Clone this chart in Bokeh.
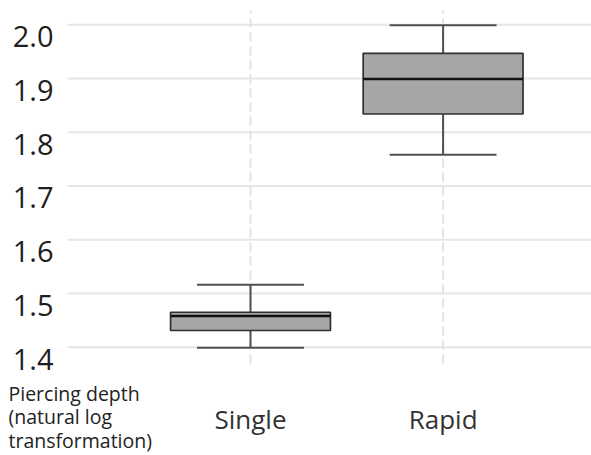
from bokeh.plotting import figure
from bokeh.models import ColumnDataSource, Range1d
from bokeh.core.properties import value
from bokeh.embed import file_html
from bokeh.resources import INLINE

# ---- data ----
groups = ["Single", "Rapid"]
lower = [1.399, 1.758]
q1 = [1.431, 1.834]
median = [1.458, 1.899]
q3 = [1.465, 1.947]
upper = [1.516, 1.999]
y_ticks = [1.4, 1.5, 1.6, 1.7, 1.8, 1.9, 2.0]
y_title_lines = ["Piercing depth", "(natural log", "transformation)"]

# ---- layout constants (pixel geometry of the canvas) ----
W, H = 591, 455
PX_PER_X = 192.6          # pixels per category step
PX_PER_Y = 537.3          # pixels per 1.0 of y
X_ORIGIN_PX = 250 - PX_PER_X   # pixel position of x = 0
Y2_PX = 24.3              # pixel row of y = 2.0
BOX_W = 0.83
CAP_W = 0.555


def px_to_x(px):
    return (px - X_ORIGIN_PX) / PX_PER_X


def px_to_y(py):
    return 2.0 - (py - Y2_PX) / PX_PER_Y


FRAME_L, FRAME_R = px_to_x(67), px_to_x(W)
FRAME_T, FRAME_B = px_to_y(10), px_to_y(363)

xs = [i + 1 for i in range(len(groups))]
src = ColumnDataSource(dict(
    x=xs, lower=lower, q1=q1, median=median, q3=q3, upper=upper,
    cap_l=[x - CAP_W / 2 for x in xs], cap_r=[x + CAP_W / 2 for x in xs],
    box_l=[x - BOX_W / 2 for x in xs], box_r=[x + BOX_W / 2 for x in xs],
))

p = figure(width=W, height=H,
           x_range=Range1d(px_to_x(0), px_to_x(W)),
           y_range=Range1d(px_to_y(H), px_to_y(0)),
           output_backend="svg", toolbar_location=None,
           x_axis_location=None, y_axis_location=None,
           min_border=0, min_border_left=0, min_border_right=0,
           min_border_top=0, min_border_bottom=0)
p.outline_line_color = None
p.background_fill_color = "white"
p.border_fill_color = "white"
p.grid.visible = False

# ---- grid lines ----
p.segment(x0=[FRAME_L] * len(y_ticks), x1=[FRAME_R] * len(y_ticks),
          y0=y_ticks, y1=y_ticks, line_color="#e6e6e6", line_width=2)
p.segment(x0=xs, x1=xs, y0=[FRAME_B] * len(xs), y1=[FRAME_T] * len(xs),
          line_color="#e2e2e2", line_width=2, line_dash="9 5")

# ---- y tick labels (sit just under their grid lines) ----
p.text(x=[px_to_x(53)] * len(y_ticks), y=y_ticks,
       text=[f"{v:.1f}" for v in y_ticks], y_offset=12,
       text_align="right", text_baseline="middle",
       text_font=value("Open Sans"), text_font_size="29px", text_color="#1e1e1e")

# ---- category labels ----
p.text(x=xs, y=[px_to_y(418)] * len(xs), text=groups,
       text_align="center", text_baseline="middle",
       text_font=value("Open Sans"), text_font_size="26px", text_color="#333333")

# ---- y title (three lines, bottom-left) ----
p.text(x=[px_to_x(8)] * len(y_title_lines),
       y=[px_to_y(392.6 + i * 23.5) for i in range(len(y_title_lines))],
       text=y_title_lines, text_align="left", text_baseline="middle",
       text_font=value("Open Sans"), text_font_size="19.5px", text_color="#222222")

# ---- whiskers ----
wc = "#505050"
p.segment(x0="x", y0="q3", x1="x", y1="upper", source=src, line_color=wc, line_width=2)
p.segment(x0="x", y0="q1", x1="x", y1="lower", source=src, line_color=wc, line_width=2)
p.segment(x0="cap_l", y0="upper", x1="cap_r", y1="upper", source=src, line_color=wc, line_width=2)
p.segment(x0="cap_l", y0="lower", x1="cap_r", y1="lower", source=src, line_color=wc, line_width=2)

# ---- boxes ----
p.vbar(x="x", width=BOX_W, bottom="q1", top="q3", source=src,
       fill_color="#a6a6a6", line_color="#303030", line_width=1.7)
p.segment(x0="box_l", y0="median", x1="box_r", y1="median", source=src,
          line_color="#111111", line_width=2.5)

open("out.html", "w").write(file_html(p, INLINE))
